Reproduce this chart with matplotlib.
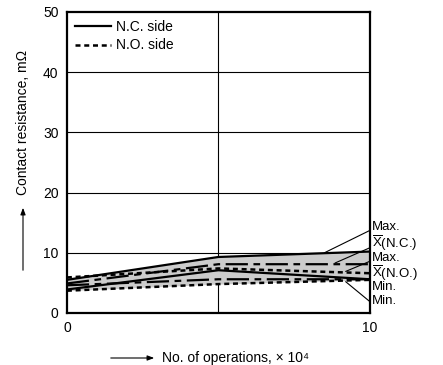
import matplotlib
matplotlib.use("Agg")
import matplotlib.pyplot as plt

plt.rcParams['font.family'] = ['Liberation Sans', 'DejaVu Sans']
plt.rcParams['mathtext.fontset'] = 'custom'
plt.rcParams['mathtext.rm'] = 'Liberation Sans'

# values
ops = [0, 5, 10]
nc_max = [5.5, 9.3, 10.2]
nc_mean = [4.9, 8.1, 8.1]
nc_min = [3.9, 7.1, 5.6]
no_max = [5.9, 7.4, 6.6]
no_mean = [4.6, 5.6, 5.6]
no_min = [3.7, 4.8, 5.5]

labels = ['Max.', r'$\overline{\mathrm{X}}$(N.C.)', 'Max.',
          r'$\overline{\mathrm{X}}$(N.O.)', 'Min.', 'Min.']

fig = plt.figure(figsize=(4.43, 3.65), dpi=100)
ax = fig.add_axes([0.151, 0.1425, 0.684, 0.825])

grey = '#cccccc'
ax.fill_between(ops, nc_min, nc_max, color=grey, lw=0)
ax.fill_between(ops, no_min, no_max, color=grey, lw=0)

ax.plot(ops, nc_max, color='black', lw=1.6, label='N.C. side')
ax.plot(ops, nc_min, color='black', lw=1.6)
ax.plot(ops, nc_mean, color='black', lw=1.6, dashes=(10, 2.5, 3, 2.5))
ax.plot(ops, no_max, color='black', lw=1.8, dashes=(2, 1.5), label='N.O. side')
ax.plot(ops, no_min, color='black', lw=1.8, dashes=(2, 1.5))
ax.plot(ops, no_mean, color='black', lw=1.6, dashes=(10, 2.5, 3, 2.5))

ax.set_xlim(0, 10)
ax.set_ylim(0, 50)
ax.set_xticks([0, 10])
ax.set_yticks([0, 10, 20, 30, 40, 50])
for y in [10, 20, 30, 40]:
    ax.axhline(y, color='black', lw=0.8, zorder=0)
ax.axvline(5, color='black', lw=0.8, zorder=0)
ax.tick_params(length=0, labelsize=10, pad=6)
for s in ax.spines.values():
    s.set_linewidth(1.6)

leg = ax.legend(loc='upper left', frameon=False, fontsize=10,
                handlelength=2.6, handletextpad=0.3,
                borderaxespad=0.2, labelspacing=0.3)

# labels on the right with leader lines
text_px = [227, 243, 258, 273, 287, 301]
targets = [(8.5, 10.0), (8.85, 8.3), (9.2, 6.9), None, None, (9.2, 5.2)]
for lab, py, tgt in zip(labels, text_px, targets):
    yv = (313 - py) / 6.02
    if tgt is None:
        ax.text(10.07, yv, lab, fontsize=9.5, ha='left', va='center', clip_on=False)
    else:
        ax.annotate(lab, xy=tgt, xytext=(10.07, yv), fontsize=9.5,
                    ha='left', va='center', annotation_clip=False,
                    arrowprops=dict(arrowstyle='-', lw=0.8, color='black',
                                    shrinkA=0, shrinkB=0, relpos=(0, 0.3)))

# axis titles with arrows
fig.text(23 / 443, 1 - 122 / 365, 'Contact resistance, m\u03a9', rotation=90,
         ha='center', va='center', fontsize=10)
fig.add_artist(matplotlib.patches.FancyArrowPatch(
    (23 / 443, 1 - 273 / 365), (23 / 443, 1 - 205 / 365),
    transform=fig.transFigure, arrowstyle='-|>,head_length=4,head_width=1.5',
    lw=0.8, color='black'))
fig.text(162 / 443, 1 - 358 / 365, 'No. of operations, \u00d7 10\u2074',
         ha='left', va='center', fontsize=10)
fig.add_artist(matplotlib.patches.FancyArrowPatch(
    (108 / 443, 1 - 358 / 365), (157 / 443, 1 - 358 / 365),
    transform=fig.transFigure, arrowstyle='-|>,head_length=4,head_width=1.5',
    lw=0.8, color='black'))

fig.savefig('out.png', dpi=100)
